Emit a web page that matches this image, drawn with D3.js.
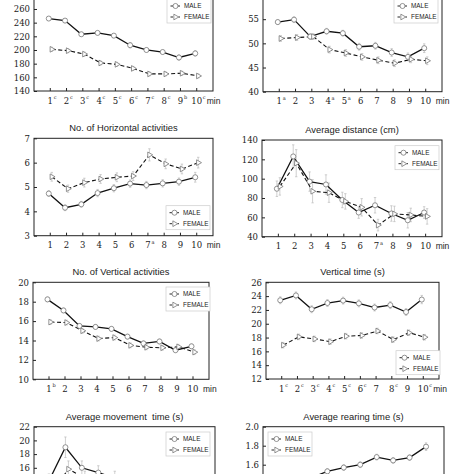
<!DOCTYPE html>
<html>
<head>
<meta charset="utf-8">
<script src="https://cdn.jsdelivr.net/npm/d3@7"></script>
<style>
body { margin: 0; background: #fff; }
svg { display: block; }
</style>
</head>
<body>
<div id="chart"></div>
<script>
// x axis: minute of the test
var minutes = [1, 2, 3, 4, 5, 6, 7, 8, 9, 10];

// panel 1 (title cut off above the picture)
var p1Male = [246, 243, 223, 225, 221, 207, 200, 197, 189, 195];
var p1Female = [201, 199, 194, 181, 179, 173, 165, 165, 166, 162];
var p1MaleErr = [3, 3, 3, 3, 3, 4, 3, 3, 4, 4];
var p1FemaleErr = [3, 3, 3, 3, 3, 3, 3, 3, 3, 3];
var p1Marks = ["c", "c", "c", "c", "c", "c", "c", "c", "b", "c"];
var p1Ticks = [140, 160, 180, 200, 220, 240, 260];

// panel 2 (title cut off above the picture)
var p2Male = [54.4, 54.9, 51.4, 52.5, 52.1, 49.3, 49.5, 48.1, 47.2, 49.0];
var p2Female = [51.0, 51.2, 51.4, 48.7, 48.0, 47.2, 46.5, 45.9, 46.7, 46.4];
var p2MaleErr = [0.5, 0.6, 0.6, 0.6, 0.6, 0.7, 0.7, 0.8, 0.8, 0.9];
var p2FemaleErr = [0.6, 0.6, 0.6, 0.7, 0.7, 0.7, 0.7, 0.7, 0.7, 0.8];
var p2Marks = ["a", "", "", "a", "a", "", "", "", "", ""];
var p2Ticks = [40, 45, 50, 55];

// No. of Horizontal activities
var p3Male = [4.73, 4.15, 4.29, 4.75, 4.95, 5.14, 5.08, 5.15, 5.22, 5.40];
var p3Female = [5.42, 4.93, 5.18, 5.33, 5.40, 5.45, 6.32, 5.95, 5.74, 6.00];
var p3MaleErr = [0.12, 0.12, 0.12, 0.15, 0.15, 0.15, 0.15, 0.15, 0.15, 0.2];
var p3FemaleErr = [0.18, 0.15, 0.18, 0.18, 0.18, 0.18, 0.25, 0.2, 0.2, 0.22];
var p3Marks = ["", "", "", "", "", "", "a", "", "", ""];
var p3Ticks = [3, 4, 5, 6, 7];

// Average distance (cm)
var p4Male = [89.6, 123, 97, 94, 78, 65, 72.5, 64, 57, 65];
var p4Female = [92, 116, 87, 85.5, 76.5, 70.4, 52, 63.6, 62.5, 61];
var p4MaleErr = [8, 12, 10, 10, 8, 6, 8, 8, 8, 6];
var p4FemaleErr = [9, 14, 12, 10, 8, 9, 6, 8, 7, 8];
var p4Marks = ["", "", "", "", "", "", "a", "", "", ""];
var p4Ticks = [40, 60, 80, 100, 120, 140];

// No. of Vertical activities
var p5Male = [18.24, 17.1, 15.5, 15.4, 15.2, 14.4, 13.7, 13.9, 13.0, 13.4];
var p5Female = [15.9, 15.85, 15.0, 14.2, 14.3, 13.5, 13.3, 13.25, 13.35, 12.8];
var p5MaleErr = [0.25, 0.25, 0.25, 0.25, 0.25, 0.25, 0.25, 0.25, 0.25, 0.25];
var p5FemaleErr = [0.25, 0.25, 0.25, 0.25, 0.25, 0.25, 0.25, 0.25, 0.25, 0.25];
var p5Marks = ["b", "", "", "", "", "", "", "", "", ""];
var p5Ticks = [10, 12, 14, 16, 18, 20];

// Vertical time (s)
var p6Male = [23.4, 24.1, 22.1, 23.0, 23.35, 22.95, 22.35, 22.7, 21.7, 23.5];
var p6Female = [16.9, 18.1, 17.8, 17.4, 18.2, 18.3, 18.95, 17.7, 18.7, 18.05];
var p6MaleErr = [0.5, 0.5, 0.5, 0.5, 0.5, 0.5, 0.5, 0.5, 0.5, 0.6];
var p6FemaleErr = [0.4, 0.4, 0.4, 0.4, 0.4, 0.4, 0.4, 0.4, 0.4, 0.4];
var p6Marks = ["c", "c", "c", "c", "c", "c", "", "c", "", "c"];
var p6Ticks = [12, 14, 16, 18, 20, 22, 24, 26];

// Average movement time (s) - lower part cut off
var p7Male = [14.1, 19.0, 16.0, 15.3, 14.5, 14.0, 13.8, 13.5, 13.2, 13.0];
var p7Female = [12.5, 15.8, 14.5, 14.0, 13.5, 13.2, 13.0, 12.8, 12.6, 12.5];
var p7MaleErr = [1, 1.5, 1, 1, 1, 1, 1, 1, 1, 1];
var p7FemaleErr = [1, 1.2, 1, 1, 1, 1, 1, 1, 1, 1];
var p7Marks = ["", "", "", "", "", "", "", "", "", ""];
var p7Ticks = [16, 18, 20, 22];

// Average rearing time (s) - lower part cut off
var p8Male = [1.42, 1.44, 1.46, 1.53, 1.57, 1.60, 1.68, 1.645, 1.675, 1.79];
var p8Female = [1.32, 1.35, 1.37, 1.38, 1.40, 1.39, 1.42, 1.41, 1.43, 1.43];
var p8MaleErr = [0.03, 0.03, 0.03, 0.03, 0.03, 0.03, 0.03, 0.03, 0.03, 0.04];
var p8FemaleErr = [0.03, 0.03, 0.03, 0.03, 0.03, 0.03, 0.03, 0.03, 0.03, 0.03];
var p8Marks = ["", "", "", "", "", "", "", "", "", ""];
var p8Ticks = [1.6, 1.8, 2.0];

// layout: y domain, frame [left, right, top, bottom], legend [left, first row y]
var panels = [
    { title: "", male: p1Male, female: p1Female, maleErr: p1MaleErr, femaleErr: p1FemaleErr,
      marks: p1Marks, ticks: p1Ticks, domain: [140, 280], fmt: "d", frame: [34, 213, -4.7, 91], legend: [167, 6] },
    { title: "", male: p2Male, female: p2Female, maleErr: p2MaleErr, femaleErr: p2FemaleErr,
      marks: p2Marks, ticks: p2Ticks, domain: [40, 60], fmt: "d", frame: [263, 442, -5, 91.7], legend: [394, 6] },
    { title: "No. of Horizontal activities", male: p3Male, female: p3Female, maleErr: p3MaleErr, femaleErr: p3FemaleErr,
      marks: p3Marks, ticks: p3Ticks, domain: [3, 7], fmt: "d", frame: [34, 213, 138.3, 235.7], legend: [166, 212.7] },
    { title: "Average distance (cm)", male: p4Male, female: p4Female, maleErr: p4MaleErr, femaleErr: p4FemaleErr,
      marks: p4Marks, ticks: p4Ticks, domain: [40, 140], fmt: "d", frame: [262, 442, 140, 236.7], legend: [395, 152.7] },
    { title: "No. of Vertical activities", male: p5Male, female: p5Female, maleErr: p5MaleErr, femaleErr: p5FemaleErr,
      marks: p5Marks, ticks: p5Ticks, domain: [10, 20], fmt: "d", frame: [33, 209, 282.3, 379.3], legend: [166, 294] },
    { title: "Vertical time (s)", male: p6Male, female: p6Female, maleErr: p6MaleErr, femaleErr: p6FemaleErr,
      marks: p6Marks, ticks: p6Ticks, domain: [12, 26], fmt: "d", frame: [266, 439, 282.3, 379], legend: [396, 357.7] },
    { title: "Average movement  time (s)", male: p7Male, female: p7Female, maleErr: p7MaleErr, femaleErr: p7FemaleErr,
      marks: p7Marks, ticks: p7Ticks, domain: [12, 22], fmt: "d", frame: [34, 215, 426.7, 495.2], legend: [166, 439] },
    { title: "Average rearing time (s)", male: p8Male, female: p8Female, maleErr: p8MaleErr, femaleErr: p8FemaleErr,
      marks: p8Marks, ticks: p8Ticks, domain: [1.0, 2.0], fmt: ".1f", frame: [263, 444, 426.7, 521.7], legend: [268, 439] },
];

var W = 474, H = 474;
var serif = "'DejaVu Serif', serif";
var sans = "'Liberation Sans', Arial, sans-serif";
var ink = "#222";

var svg = d3.select("#chart").append("svg")
    .attr("width", W)
    .attr("height", H);

var circleSym = d3.symbol().type(d3.symbolCircle).size(20);
var triSym = d3.symbol().type(d3.symbolTriangle).size(14);

var drawMarker = function(g, kind, cx, cy) {
    var m = g.append("path")
        .attr("fill", "#fff")
        .attr("stroke", "#777")
        .attr("stroke-width", 0.8);
    if (kind === "male") {
        m.attr("d", circleSym()).attr("transform", "translate(" + cx + "," + cy + ")");
    } else {
        m.attr("d", triSym()).attr("transform", "translate(" + cx + "," + cy + ") rotate(90)");
    }
};

panels.forEach(function(p) {
    var g = svg.append("g");
    var left = p.frame[0], right = p.frame[1], top = p.frame[2], bottom = p.frame[3];

    var x = d3.scaleLinear().domain([0, 11]).range([left, right]);
    var y = d3.scaleLinear().domain(p.domain).range([bottom, top]);

    // title
    if (p.title) {
        g.append("text")
            .attr("x", (left + right) / 2)
            .attr("y", top - 7)
            .attr("text-anchor", "middle")
            .attr("font-family", sans)
            .attr("font-size", 9.4)
            .attr("fill", ink)
            .style("white-space", "pre")
            .text(p.title);
    }

    // y axis, inward ticks
    var yAxis = d3.axisLeft(y)
        .tickValues(p.ticks)
        .tickSize(-3)
        .tickPadding(4)
        .tickFormat(d3.format(p.fmt));
    var ya = g.append("g")
        .attr("transform", "translate(" + left + ",0)")
        .call(yAxis);
    ya.select(".domain").remove();
    ya.selectAll("line").attr("stroke", ink);
    ya.selectAll("text")
        .attr("font-family", serif)
        .attr("font-size", 8.5)
        .attr("fill", ink);

    // x axis: inward ticks and labels with significance marks
    var xa = g.append("g");
    xa.selectAll("line")
        .data(minutes)
        .enter().append("line")
        .attr("x1", function(d) { return x(d); })
        .attr("x2", function(d) { return x(d); })
        .attr("y1", bottom)
        .attr("y2", bottom - 3)
        .attr("stroke", ink);
    if (bottom + 13 < H) {
        xa.selectAll("text.num")
            .data(minutes)
            .enter().append("text")
            .attr("class", "num")
            .attr("x", function(d) { return x(d); })
            .attr("y", bottom + 12.5)
            .attr("text-anchor", "middle")
            .attr("font-family", serif)
            .attr("font-size", 8.5)
            .attr("fill", ink)
            .text(function(d) { return d; });
        xa.selectAll("text.mark")
            .data(minutes)
            .enter().append("text")
            .attr("class", "mark")
            .attr("x", function(d) { return x(d) + (d < 10 ? 3.5 : 6); })
            .attr("y", bottom + 8)
            .attr("font-family", serif)
            .attr("font-size", 5)
            .attr("fill", ink)
            .text(function(d, i) { return p.marks[i]; });
        xa.append("text")
            .attr("x", x(10) + 10)
            .attr("y", bottom + 12.5)
            .attr("font-family", sans)
            .attr("font-size", 8.5)
            .attr("fill", ink)
            .text("min");
    }

    // series
    var series = [
        { kind: "male", values: p.male, err: p.maleErr, dx: -1.5, dash: null, width: 1.3 },
        { kind: "female", values: p.female, err: p.femaleErr, dx: 1.5, dash: "4,2.5", width: 1.1 },
    ];

    // error bars first, behind everything
    series.forEach(function(s) {
        var eb = g.append("g").attr("stroke", "#bbb").attr("stroke-width", 0.7);
        minutes.forEach(function(m, i) {
            var cx = x(m) + s.dx;
            var y0 = y(s.values[i] - s.err[i]);
            var y1 = y(s.values[i] + s.err[i]);
            eb.append("line").attr("x1", cx).attr("x2", cx).attr("y1", y0).attr("y2", y1);
            eb.append("line").attr("x1", cx - 1.2).attr("x2", cx + 1.2).attr("y1", y0).attr("y2", y0);
            eb.append("line").attr("x1", cx - 1.2).attr("x2", cx + 1.2).attr("y1", y1).attr("y2", y1);
        });
    });

    series.forEach(function(s) {
        var line = d3.line()
            .x(function(d, i) { return x(minutes[i]) + s.dx; })
            .y(function(d) { return y(d); });
        g.append("path")
            .datum(s.values)
            .attr("d", line)
            .attr("fill", "none")
            .attr("stroke", "#111")
            .attr("stroke-width", s.width)
            .attr("stroke-dasharray", s.dash);
    });

    series.forEach(function(s) {
        minutes.forEach(function(m, i) {
            drawMarker(g, s.kind, x(m) + s.dx, y(s.values[i]));
        });
    });

    // frame
    g.append("rect")
        .attr("x", left)
        .attr("y", top)
        .attr("width", right - left)
        .attr("height", bottom - top)
        .attr("fill", "none")
        .attr("stroke", ink)
        .attr("stroke-width", 1);

    // legend
    var lx = p.legend[0], ly = p.legend[1];
    var lg = g.append("g");
    lg.append("rect")
        .attr("x", lx)
        .attr("y", ly - 7)
        .attr("width", 44)
        .attr("height", 24)
        .attr("fill", "#fff")
        .attr("stroke", "#ccc")
        .attr("stroke-width", 0.7);
    [["male", "MALE", null], ["female", "FEMALE", "2.5,1.5"]].forEach(function(item, k) {
        var ry = ly + k * 11;
        lg.append("line")
            .attr("x1", lx + 3.5)
            .attr("x2", lx + 13)
            .attr("y1", ry)
            .attr("y2", ry)
            .attr("stroke", "#111")
            .attr("stroke-width", 0.9)
            .attr("stroke-dasharray", item[2]);
        drawMarker(lg, item[0], lx + 8.5, ry);
        lg.append("text")
            .attr("x", lx + 17)
            .attr("y", ry + 2.3)
            .attr("font-family", sans)
            .attr("font-size", 6.4)
            .attr("fill", ink)
            .text(item[1]);
    });
});
</script>
</body>
</html>
